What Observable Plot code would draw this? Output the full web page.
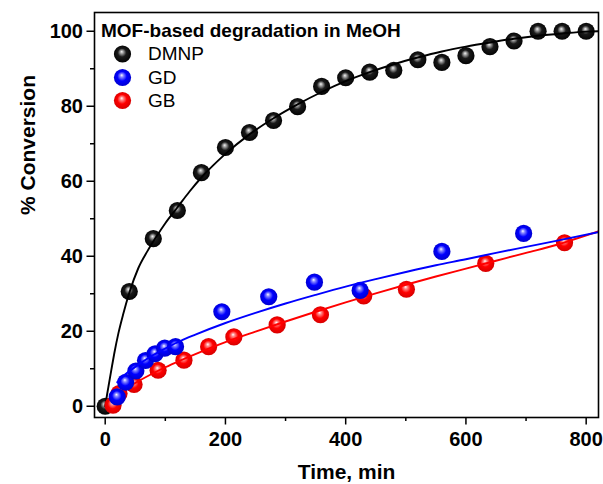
<!DOCTYPE html>
<html>
<head>
<meta charset="utf-8">
<script src="https://cdn.jsdelivr.net/npm/d3@7"></script>
<script src="https://cdn.jsdelivr.net/npm/@observablehq/plot@0.6"></script>
<style>
  html, body { margin: 0; padding: 0; background: white; }
  #chart { width: 603px; height: 484px; overflow: hidden; }
</style>
</head>
<body>
<div id="chart"></div>
<script>
// ---- Data ----
const dmnpTime = [0, 40, 80, 120, 160, 200, 240, 280, 320, 360, 400, 440, 480, 520, 560, 600, 640, 680, 720, 760, 800];
const dmnpConv = [0, 30.6, 44.7, 52.2, 62.3, 69.0, 73.0, 76.2, 79.9, 85.3, 87.6, 89.1, 89.6, 92.4, 91.7, 93.5, 95.9, 97.4, 100, 100, 100];

const gdTime = [20, 34, 51, 67, 83, 99, 117, 194, 272, 348, 424, 560, 696];
const gdConv = [2.5, 6.4, 9.4, 12.2, 14.0, 15.5, 15.9, 25.2, 29.2, 33.1, 30.9, 41.3, 46.1];

const gbTime = [13, 23, 48, 88, 131, 172, 214, 286, 358, 430, 501, 633, 764];
const gbConv = [0.3, 3.4, 5.8, 9.6, 12.3, 15.9, 18.5, 21.7, 24.4, 29.4, 31.2, 38.1, 43.6];

// fitted curves
const dmnpFitT = [0, 3, 6, 10, 15, 22, 30, 40, 55, 70, 85, 100, 120, 140, 160, 180, 200, 240, 280, 320, 360, 400, 440, 480, 520, 560, 600, 640, 680, 720, 760, 800, 820];
const dmnpFitY = [0, 3, 5.8, 9.5, 14, 19.5, 24.6, 30.2, 36.8, 41.3, 45.2, 48.8, 53, 57.2, 61, 64.3, 67.3, 72.5, 76.8, 80.5, 83.8, 86.7, 89.1, 91.2, 93, 94.6, 95.9, 97, 98, 98.8, 99.4, 99.9, 100];

const gdFitT = [20, 30, 50, 75, 100, 125, 150, 200, 250, 300, 350, 400, 450, 500, 550, 600, 650, 700, 750, 820];
const gdFitY = [6.4, 8.0, 10.5, 13.2, 15.4, 17.4, 19.1, 22.2, 24.9, 27.4, 29.7, 31.9, 33.9, 35.8, 37.6, 39.2, 40.9, 42.5, 44.1, 46.4];

const gbFitT = [14, 30, 50, 75, 100, 125, 150, 200, 250, 300, 350, 400, 450, 500, 550, 600, 650, 700, 750, 820];
const gbFitY = [2.4, 4.2, 6.2, 8.4, 10.4, 12.2, 13.9, 17.1, 19.9, 22.6, 25.2, 27.7, 30.1, 32.4, 34.6, 36.7, 38.8, 40.9, 43.0, 46.6];

const seriesNames = ["DMNP", "GD", "GB"];
const seriesColors = ["black", "blue", "red"];
const legendTitle = "MOF-based degradation in MeOH";
const xLabel = "Time, min";
const yLabel = "% Conversion";
const xMajor = [0, 200, 400, 600, 800];
const xMinor = [100, 300, 500, 700];
const yMajor = [0, 20, 40, 60, 80, 100];
const yMinor = [10, 30, 50, 70, 90];

// ---- tables ----
const toRows = (ts, ys) => ts.map((t, i) => ({t, v: ys[i]}));
const dmnp = toRows(dmnpTime, dmnpConv);
const gd = toRows(gdTime, gdConv);
const gb = toRows(gbTime, gbConv);
const dmnpFit = toRows(dmnpFitT, dmnpFitY);
const gdFit = toRows(gdFitT, gdFitY);
const gbFit = toRows(gbFitT, gbFitY);

const FONT = "'Liberation Sans', Arial, Helvetica, sans-serif";
const gradId = ["sphBlack", "sphBlue", "sphRed"];
const R = 8.6;

const legendRows = seriesNames.map((name, i) => ({name, i}));
const legendDy = [41.5, 65, 88];

const plot = Plot.plot({
  width: 603,
  height: 484,
  marginLeft: 94,
  marginRight: 5,
  marginTop: 12,
  marginBottom: 67,
  style: {fontFamily: FONT, fontSize: "20px", fontWeight: "bold", color: "black", background: "white"},
  x: {domain: [-17.8, 820.5]},
  y: {domain: [-3, 105]},
  marks: [
    Plot.axisX({ticks: xMajor, tickSize: 7.5, tickPadding: 7, strokeWidth: 1.5, fontSize: 20, fontWeight: "bold", label: null}),
    Plot.axisX({ticks: xMinor, tickSize: 4, tickFormat: () => "", strokeWidth: 1.5, label: null}),
    Plot.axisY({ticks: yMajor, tickSize: 7.5, tickPadding: 4, strokeWidth: 1.5, fontSize: 20, fontWeight: "bold", label: null}),
    Plot.axisY({ticks: yMinor, tickSize: 4, tickFormat: () => "", strokeWidth: 1.5, label: null}),

    Plot.dot(dmnp, {x: "t", y: "v", r: R, fill: `url(#${gradId[0]})`, stroke: "none"}),
    Plot.line(dmnpFit, {x: "t", y: "v", stroke: seriesColors[0], strokeWidth: 1.9, curve: "monotone-x", clip: "frame"}),
    Plot.dot(gb, {x: "t", y: "v", r: R, fill: `url(#${gradId[2]})`, stroke: "none"}),
    Plot.line(gbFit, {x: "t", y: "v", stroke: seriesColors[2], strokeWidth: 1.9, curve: "monotone-x", clip: "frame"}),
    Plot.dot(gd, {x: "t", y: "v", r: R, fill: `url(#${gradId[1]})`, stroke: "none"}),
    Plot.line(gdFit, {x: "t", y: "v", stroke: seriesColors[1], strokeWidth: 1.9, curve: "monotone-x", clip: "frame"}),

    Plot.frame({stroke: "black", strokeWidth: 1.6}),

    // legend
    Plot.text([legendTitle], {text: d => d, frameAnchor: "top-left", dx: 6.5, dy: 18, textAnchor: "start", lineAnchor: "middle", fontSize: 19, fontWeight: "bold"}),
    ...legendRows.map(d => Plot.dot([d], {frameAnchor: "top-left", dx: 28, dy: legendDy[d.i], r: R, fill: `url(#${gradId[d.i]})`, stroke: "none"})),
    ...legendRows.map(d => Plot.text([d], {text: "name", frameAnchor: "top-left", dx: 53.5, dy: legendDy[d.i], textAnchor: "start", lineAnchor: "middle", fontSize: 19, fontWeight: "normal"})),

    // axis titles
    Plot.text([xLabel], {text: d => d, frameAnchor: "bottom", dy: 55, lineAnchor: "middle", fontSize: 21, fontWeight: "bold"}),
    Plot.text([yLabel], {text: d => d, frameAnchor: "left", dx: -66.5, rotate: -90, lineAnchor: "middle", fontSize: 21, fontWeight: "bold"})
  ]
});

// sphere-like radial gradients for the markers
const stopsFor = [
  [["0%", "#f4f4f4"], ["18%", "#9a9a9a"], ["45%", "#1a1a1a"], ["100%", "#000000"]],
  [["0%", "#ffffff"], ["18%", "#8a8aff"], ["50%", "#0000ff"], ["100%", "#0000c8"]],
  [["0%", "#ffffff"], ["18%", "#ff8a8a"], ["50%", "#ff0000"], ["100%", "#d00000"]]
];
const svg = d3.select(plot);
const defs = svg.insert("defs", ":first-child");
gradId.forEach((id, k) => {
  const g = defs.append("radialGradient").attr("id", id)
    .attr("cx", "0.5").attr("cy", "0.5").attr("r", "0.55")
    .attr("fx", "0.45").attr("fy", "0.36");
  stopsFor[k].forEach(([o, c]) => g.append("stop").attr("offset", o).attr("stop-color", c));
});

document.getElementById("chart").appendChild(plot);
</script>
</body>
</html>
